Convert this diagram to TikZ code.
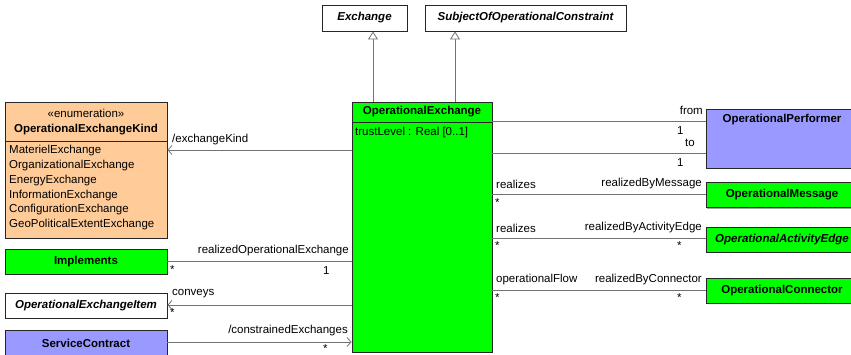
\documentclass[tikz,border=0pt]{standalone}
\usepackage{fontspec}
\setmainfont{Liberation Sans}
\usepackage{tikz}
\usetikzlibrary{arrows.meta,positioning,calc,shadows}
\usepackage{xcolor}
\definecolor{opgreen}{RGB}{0,255,0}
\definecolor{opblue}{RGB}{153,153,255}
\definecolor{oporange}{RGB}{255,204,153}

\begin{document}
\begin{tikzpicture}[
    x=1pt, y=-1pt,
    font=\fontsize{11.5}{13}\selectfont,
    box/.style={rectangle, draw=black!85, line width=0.9pt, inner sep=0pt,
        drop shadow={shadow xshift=1.3pt, shadow yshift=-1.3pt, opacity=1, fill=black!35}},
    cls/.style={box, minimum width=162pt, minimum height=25pt, font=\fontsize{11.5}{13}\selectfont\bfseries},
    side/.style={box, minimum width=152pt, minimum height=25pt, font=\fontsize{11.5}{13}\selectfont\bfseries},
    lbl/.style={inner sep=0pt},
    assoc/.style={draw=black!55, line width=0.8pt},
    nav/.style={assoc, -{Straight Barb[length=4pt,width=9pt]}},
    gen/.style={assoc, -{Triangle[open,length=8pt,width=10pt,fill=white]}}
]
    \useasboundingbox (0,0) rectangle (851,354);

    % Supertypes
    \node[box, fill=white, minimum width=85pt, minimum height=26pt, font=\fontsize{11.5}{13}\selectfont\bfseries\itshape] (exch) at (364.5,18) {Exchange};
    \node[box, fill=white, minimum width=201pt, minimum height=26pt, font=\fontsize{11.5}{13}\selectfont\bfseries\itshape] (subj) at (525.5,18) {SubjectOfOperationalConstraint};

    % OperationalExchange
    \node[box, fill=opgreen, minimum width=140pt, minimum height=250pt] (opex) at (422,227) {};
    \node[lbl, font=\fontsize{11.5}{13}\selectfont\bfseries] (opexname) at (422,112) {OperationalExchange};
    \draw[black!85, line width=0.9pt] (opex.west |- 0,122) -- (opex.east |- 0,122);
    \node[lbl, anchor=west] (trust) at (355,133) {trustLevel : Real [0..1]};
    \draw[gen] (opex.north -| 373,0) -- (exch.south -| 373,0);
    \draw[gen] (opex.north -| 455,0) -- (subj.south -| 455,0);

    % Enumeration
    \node[box, fill=oporange, minimum width=162pt, minimum height=136pt] (kind) at (86,170) {};
    \node[lbl] (kindst) at (86,113) {«enumeration»};
    \node[lbl, font=\fontsize{11.5}{13}\selectfont\bfseries] (kindname) at (86,130) {OperationalExchangeKind};
    \draw[black!85, line width=0.9pt] (kind.west |- 0,141) -- (kind.east |- 0,141);
    \foreach \lit [count=\i] in {MaterielExchange, OrganizationalExchange, EnergyExchange,
        InformationExchange, ConfigurationExchange, GeoPoliticalExtentExchange}
        \node[lbl, anchor=west] (lit\i) at (9,136+14.8*\i) {\lit};
    \draw[nav] (opex.west |- 0,150) -- (kind.east |- 0,150);
    \node[lbl, anchor=west] (kindrole) at (172,140) {/exchangeKind};

    % Left classes
    \node[cls, fill=opgreen] (impl) at (86,261.5) {Implements};
    \node[cls, fill=white, font=\fontsize{11.5}{13}\selectfont\bfseries\itshape] (item) at (86,305.5) {OperationalExchangeItem};
    \node[cls, fill=opblue, minimum height=26pt] (svc) at (86,343) {ServiceContract};

    \draw[assoc] (impl.east |- 0,261) -- (opex.west |- 0,261);
    \node[lbl, anchor=east] (implrole) at (349,251) {realizedOperationalExchange};
    \node[lbl, anchor=west] (implm1) at (170,270) {*};
    \node[lbl, anchor=west] (implm2) at (323,271) {1};

    \draw[nav] (opex.west |- 0,305) -- (item.east |- 0,305);
    \node[lbl, anchor=west] (itemrole) at (172,294) {conveys};
    \node[lbl, anchor=west] (itemm) at (170,313) {*};

    \draw[nav] (svc.east |- 0,342) -- (opex.west |- 0,342);
    \node[lbl, anchor=east] (svcrole) at (348,331) {/constrainedExchanges};
    \node[lbl, anchor=west] (svcm) at (323,348.5) {*};

    % Right classes
    \node[side, fill=opblue, minimum height=59pt] (perf) at (782,138.5) {};
    \node[lbl, font=\fontsize{11.5}{13}\selectfont\bfseries] (perfname) at (782,120) {OperationalPerformer};
    \node[side, fill=opgreen] (msg) at (782,195) {OperationalMessage};
    \node[side, fill=opgreen, font=\fontsize{11.5}{13}\selectfont\bfseries\itshape] (edge) at (782,239.5) {OperationalActivityEdge};
    \node[side, fill=opgreen] (conn) at (782,290.5) {OperationalConnector};

    \draw[assoc] (opex.east |- 0,121) -- (perf.west |- 0,121);
    \node[lbl, anchor=east] (fromrole) at (703,110) {from};
    \node[lbl, anchor=west] (fromm) at (677,131) {1};
    \draw[assoc] (opex.east |- 0,153) -- (perf.west |- 0,153);
    \node[lbl, anchor=east] (torole) at (695,143) {to};
    \node[lbl, anchor=west] (tom) at (677,163) {1};

    \draw[assoc] (opex.east |- 0,194) -- (msg.west |- 0,194);
    \node[lbl, anchor=west] (msgl) at (496,184) {realizes};
    \node[lbl, anchor=east] (msgr) at (702,184) {realizedByMessage};
    \node[lbl, anchor=west] (msgm) at (495,203) {*};

    \draw[assoc] (opex.east |- 0,238) -- (edge.west |- 0,238);
    \node[lbl, anchor=west] (edgel) at (496,228) {realizes};
    \node[lbl, anchor=east] (edger) at (702,228) {realizedByActivityEdge};
    \node[lbl, anchor=west] (edgem1) at (495,246) {*};
    \node[lbl, anchor=west] (edgem2) at (677,246) {*};

    \draw[assoc] (opex.east |- 0,290) -- (conn.west |- 0,290);
    \node[lbl, anchor=west] (connl) at (496,280) {operationalFlow};
    \node[lbl, anchor=east] (connr) at (702,280) {realizedByConnector};
    \node[lbl, anchor=west] (connm1) at (495,298) {*};
    \node[lbl, anchor=west] (connm2) at (677,298) {*};
\end{tikzpicture}
\end{document}
